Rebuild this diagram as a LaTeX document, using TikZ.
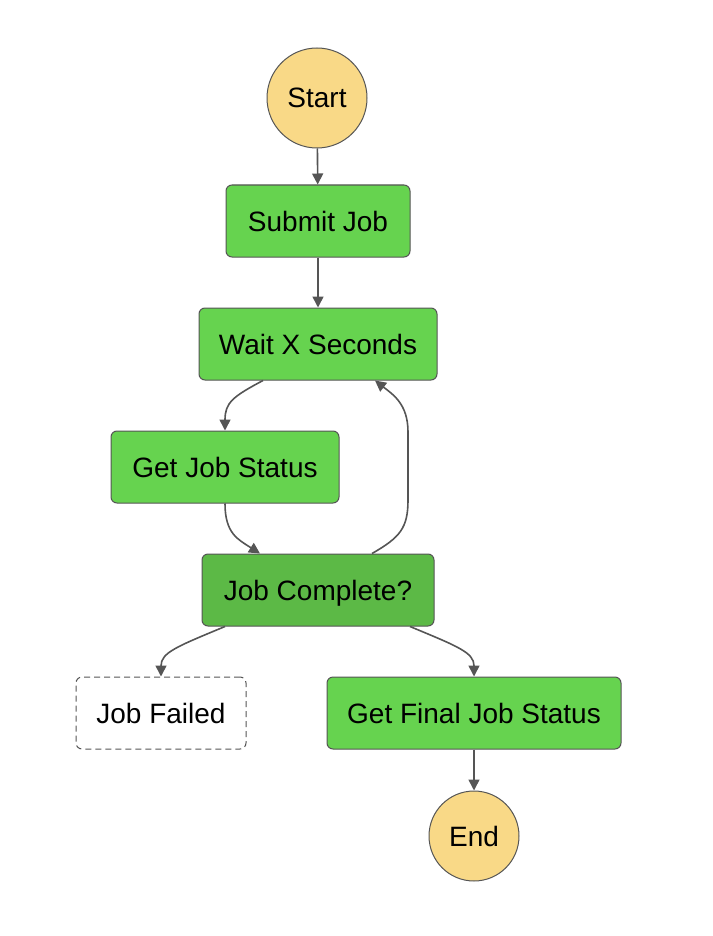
\documentclass[tikz,border=0pt]{standalone}
\usepackage{fontspec}
\setmainfont{Liberation Sans}
\usetikzlibrary{arrows.meta}

\definecolor{taskgreen}{HTML}{66D34F}
\definecolor{choicegreen}{HTML}{5CB946}
\definecolor{termyellow}{HTML}{F9D987}
\definecolor{edgegray}{HTML}{555555}

\begin{document}
\begin{tikzpicture}[x=1pt,y=-1pt,>={Triangle[length=11pt,width=11pt]},font=\fontsize{28}{33}\selectfont]
		\tikzstyle{term}=[circle, draw=edgegray, line width=1pt, fill=termyellow, text height=25pt, text depth=5pt, inner sep=0pt]
		\tikzstyle{task}=[rectangle, rounded corners=6pt, draw=edgegray, line width=1pt, fill=taskgreen, minimum height=72pt, text height=25pt, text depth=5pt]
		\tikzstyle{choice}=[task, fill=choicegreen]
		\tikzstyle{fail}=[task, fill=white, dash pattern=on 6pt off 4pt]
		\tikzstyle{flow}=[->, draw=edgegray, line width=1.6pt]

		\useasboundingbox (0,0) rectangle (712,936);

		\node [term, minimum size=100pt] (start) at (317,98) {Start};
		\node [task, minimum width=184pt] (submit) at (318,221) {Submit Job};
		\node [task, minimum width=238pt] (wait) at (318,344) {Wait X Seconds};
		\node [task, minimum width=228pt] (status) at (225,467) {Get Job Status};
		\node [choice, minimum width=232pt] (complete) at (318,590) {Job Complete?};
		\node [fail, minimum width=170pt] (failed) at (161,713) {Job Failed};
		\node [task, minimum width=294pt] (final) at (474,713) {Get Final Job Status};
		\node [term, minimum size=90pt] (end) at (474,836) {End};

		\draw [flow] (start) -- (submit);
		\draw [flow] (submit) -- (wait);
		\draw [flow] ([xshift=-55pt]wait.south) .. controls +(-30,16) and +(0,-28) .. (status.north);
		\draw [flow] (status.south) .. controls +(0,30) and +(-22,-14) .. ([xshift=-58pt]complete.north);
		\draw [flow] ([xshift=54pt]complete.north) .. controls +(28,-16) and +(0,28) .. (408,500)
			-- (408,432) .. controls +(0,-28) and +(18,14) .. ([xshift=57pt]wait.south);
		\draw [flow] ([xshift=-93pt]complete.south) .. controls +(-48,20) and +(0,-24) .. (failed.north);
		\draw [flow] ([xshift=92pt]complete.south) .. controls +(48,20) and +(0,-24) .. (final.north);
		\draw [flow] (final) -- (end);
\end{tikzpicture}
\end{document}
